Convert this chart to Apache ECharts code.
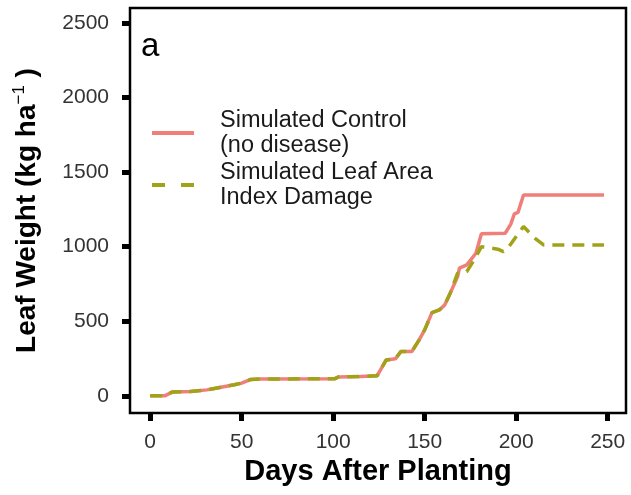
<!DOCTYPE html>
<html>
<head>
<meta charset="utf-8">
<script src="https://cdn.jsdelivr.net/npm/echarts@6/dist/echarts.min.js"></script>
<style>
  html, body { margin: 0; padding: 0; background: #fff; }
  #chart { width: 631px; height: 495px; }
</style>
</head>
<body>
<div id="chart"></div>
<script>
// ticks
const xTicks = [0, 50, 100, 150, 200, 250]
const yTicks = [0, 500, 1000, 1500, 2000, 2500]

// simulated control (no disease)
const controlDays = [0, 8, 12, 22, 31, 38, 46, 50, 55, 60, 101, 103, 115, 124, 129, 134, 137, 143, 147, 150, 154, 158, 161, 164, 168, 169, 173, 178, 181, 194, 197, 199, 201, 204, 248]
const controlWeight = [0, 0, 25, 29, 40, 56, 74, 85, 110, 113, 115, 127, 129, 134, 241, 248, 297, 297, 375, 442, 558, 576, 610, 690, 800, 856, 878, 956, 1086, 1090, 1150, 1220, 1230, 1347, 1347]

// simulated leaf area index damage
const ladDays = [0, 8, 12, 22, 31, 38, 46, 50, 55, 60, 101, 103, 115, 124, 129, 134, 137, 143, 147, 150, 154, 158, 161, 164, 168, 173, 177, 181, 190, 193, 196, 200, 204, 210, 215, 248]
const ladWeight = [0, 0, 25, 29, 40, 56, 74, 85, 110, 113, 115, 127, 129, 134, 241, 248, 297, 297, 375, 442, 558, 576, 610, 690, 822, 833, 911, 1000, 983, 967, 1000, 1068, 1135, 1059, 1012, 1012]

const pair = (xs, ys) => xs.map((x, i) => [x, ys[i]])

const pinkColor = '#F07F7A'
const greenColor = '#A0A318'
const font = 'Liberation Sans, Arial, sans-serif'

const myChart = echarts.init(document.getElementById('chart'))

const option = {
  animation: false,
  textStyle: { fontFamily: font },
  // 图例：实线 / 两段虚线
  legend: {
    orient: 'vertical',
    left: 152,
    top: 108,
    padding: 0,
    itemWidth: 42,
    itemHeight: 4,
    itemGap: 2,
    symbolKeepAspect: false,
    itemStyle: { borderWidth: 0, borderColor: 'transparent' },
    lineStyle: { width: 0 },
    textStyle: {
      fontSize: 23.5,
      lineHeight: 25,
      color: '#1a1a1a',
      padding: [0, 0, 0, 21]
    },
    data: [
      {
        name: 'Simulated Control\n(no disease)',
        icon: 'path://M0,0H42V4H0Z',
        itemStyle: { color: pinkColor, borderWidth: 0, borderColor: 'transparent' }
      },
      {
        name: 'Simulated Leaf Area\nIndex Damage',
        icon: 'path://M0,0H13V4H0Z M29,0H42V4H29Z',
        itemStyle: { color: greenColor, borderWidth: 0, borderColor: 'transparent' }
      }
    ]
  },
  grid: {
    left: 130,
    right: 5,
    top: 8,
    bottom: 82,
    show: true,
    borderColor: '#000',
    borderWidth: 2.5
  },
  graphic: [
    {
      type: 'text',
      left: 141,
      top: 30,
      style: { text: 'a', fontSize: 33, fill: '#000', fontFamily: font }
    }
  ],
  xAxis: {
    type: 'value',
    min: -11,
    max: 260,
    name: 'Days After Planting',
    nameLocation: 'middle',
    nameGap: 42,
    nameTextStyle: { fontSize: 29, fontWeight: 'bold', color: '#000' },
    axisLine: { show: false, onZero: false },
    splitLine: { show: false },
    axisTick: {
      customValues: xTicks,
      length: 8,
      lineStyle: { color: '#000', width: 5 }
    },
    axisLabel: {
      customValues: xTicks,
      margin: 19,
      fontSize: 21,
      color: '#333',
      formatter: (value) => String(value)
    }
  },
  yAxis: {
    type: 'value',
    min: -115,
    max: 2600,
    name: '{t|Leaf Weight (kg ha}{s|−1}{t| )}',
    nameLocation: 'middle',
    nameGap: 86,
    nameTextStyle: {
      rich: {
        t: { fontSize: 28, fontWeight: 'bold', color: '#000' },
        s: { fontSize: 17, color: '#000', verticalAlign: 'top', padding: [0, 0, 16, 0] }
      }
    },
    axisLine: { show: false, onZero: false },
    splitLine: { show: false },
    axisTick: {
      customValues: yTicks,
      length: 8,
      lineStyle: { color: '#000', width: 5 }
    },
    axisLabel: {
      customValues: yTicks,
      margin: 21,
      fontSize: 21,
      color: '#333',
      formatter: (value) => String(value)
    }
  },
  series: [
    {
      name: 'Simulated Control\n(no disease)',
      type: 'line',
      symbol: 'none',
      color: pinkColor,
      lineStyle: { width: 3.5, color: pinkColor },
      data: pair(controlDays, controlWeight)
    },
    {
      name: 'Simulated Leaf Area\nIndex Damage',
      type: 'line',
      symbol: 'none',
      color: greenColor,
      lineStyle: { width: 3.5, color: greenColor, type: [12, 8] },
      data: pair(ladDays, ladWeight)
    }
  ]
}
myChart.setOption(option)
</script>
</body>
</html>
